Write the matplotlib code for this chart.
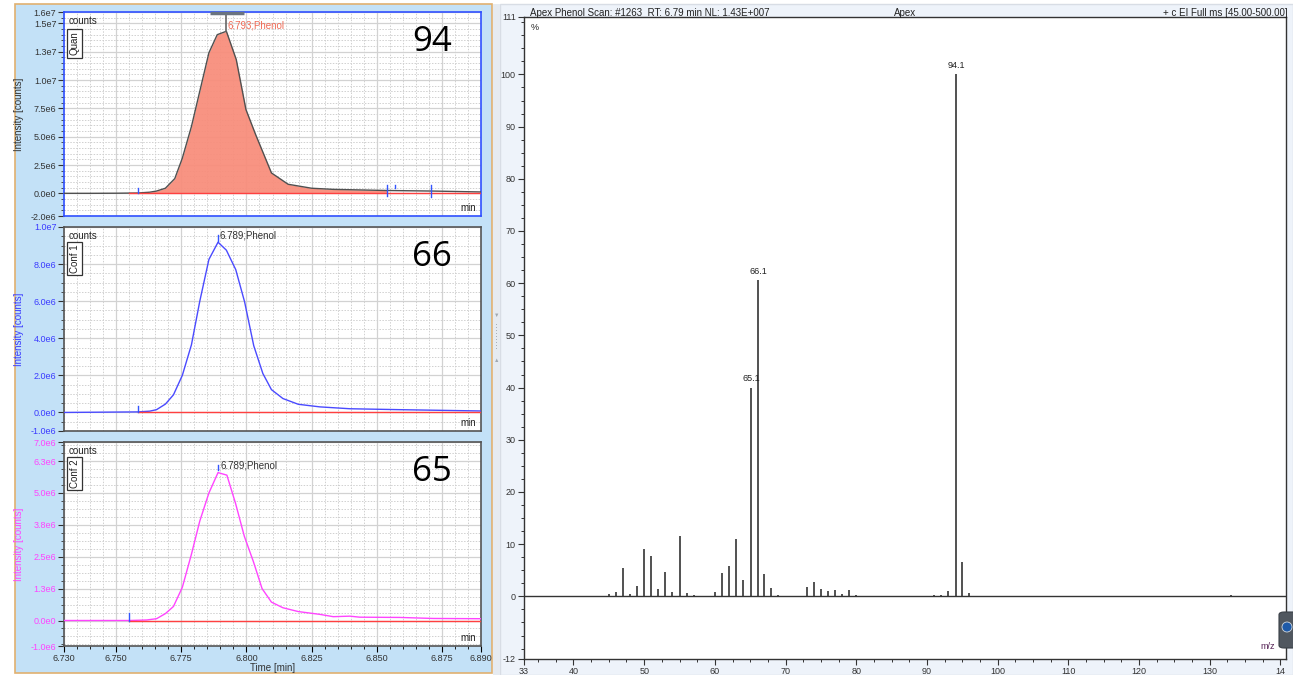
import matplotlib
matplotlib.use("Agg")
import matplotlib.pyplot as plt
from matplotlib.patches import Rectangle, FancyBboxPatch, Ellipse
from matplotlib.ticker import FixedLocator, MultipleLocator

plt.rcParams['font.family'] = ['Liberation Sans', 'DejaVu Sans']

# chromatogram m/z 94 (quan)
t94 = [6.730, 6.740, 6.750, 6.7584, 6.7629, 6.7655, 6.7689, 6.7725, 6.7754, 6.7789, 6.7824,
       6.7856, 6.7888, 6.7923, 6.7961, 6.7998, 6.8035, 6.8096, 6.8160, 6.8250, 6.8333, 6.8538,
       6.8717, 6.8900]
i94 = [0.0, 0.0, 0.01, 0.03, 0.10, 0.20, 0.45, 1.3, 3.1, 5.9, 9.3,
       12.4, 14.0, 14.3, 11.8, 7.4, 5.2, 1.8, 0.8, 0.45, 0.35, 0.25,
       0.2, 0.12]

# chromatogram m/z 66 (conf 1)
t66 = [6.730, 6.7584, 6.7629, 6.7655, 6.7689, 6.772, 6.7754, 6.7789, 6.7821, 6.7856, 6.7891,
       6.7923, 6.7959, 6.7993, 6.8028, 6.8063, 6.8096, 6.814, 6.8199, 6.8282, 6.8397, 6.8589, 6.890]
i66 = [0.0, 0.03, 0.07, 0.15, 0.45, 0.95, 2.0, 3.65, 6.0, 8.25, 9.18,
       8.75, 7.7, 5.96, 3.6, 2.1, 1.23, 0.75, 0.44, 0.3, 0.2, 0.15, 0.08]

# chromatogram m/z 65 (conf 2)
t65 = [6.730, 6.755, 6.7617, 6.7655, 6.7689, 6.772, 6.7754, 6.7789, 6.7821, 6.7856, 6.7891,
       6.7925, 6.7958, 6.7992, 6.8027, 6.806, 6.8096, 6.814, 6.8199, 6.8282, 6.8333, 6.8397,
       6.8435, 6.8589, 6.8717, 6.890]
i65 = [0.0, 0.0, 0.02, 0.07, 0.27, 0.55, 1.3, 2.6, 3.9, 5.0, 5.8,
       5.7, 4.6, 3.3, 2.3, 1.25, 0.72, 0.5, 0.35, 0.24, 0.15, 0.17,
       0.13, 0.12, 0.08, 0.07]

# apex mass spectrum
mz = [45, 46, 47, 48, 49, 50, 51, 52, 53, 54, 55, 56, 57, 60, 61, 62, 63, 64, 65.1, 66.1, 67, 68, 69,
      73, 74, 75, 76, 77, 78, 79, 80, 91, 92, 93, 94.1, 95, 96, 133]
rel = [0.4, 0.9, 5.4, 0.4, 1.9, 9.0, 7.8, 1.5, 4.7, 0.9, 11.6, 0.6, 0.3, 0.9, 4.4, 5.9, 11.0, 3.1, 40.0, 60.6, 4.2, 1.6, 0.3,
       1.7, 2.8, 1.5, 1.0, 1.3, 0.45, 1.3, 0.3, 0.3, 0.3, 1.1, 100.0, 6.6, 0.6, 0.2]
labelled = [65.1, 66.1, 94.1]

x_ticks = [6.730, 6.750, 6.775, 6.800, 6.825, 6.850, 6.875, 6.890]
x_labels = ["6.730", "6.750", "6.775", "6.800", "6.825", "6.850", "6.875", "6.890"]

fig = plt.figure(figsize=(12.93, 6.75), dpi=100)
fig.patch.set_facecolor("white")

# window backgrounds
fig.patches.append(Rectangle((15/1293, 2/675), 477/1293, 669/675, transform=fig.transFigure,
                             facecolor="#c3e1f7", edgecolor="#e0b070", lw=1.2, zorder=-5))
fig.patches.append(Rectangle((500/1293, 0), 793/1293, 671/675, transform=fig.transFigure,
                             facecolor="#eef3fa", edgecolor="#d8dde5", lw=1, zorder=-5))
fig.patches.append(Rectangle((493/1293, 0), 7/1293, 671/675, transform=fig.transFigure,
                             facecolor="#e6ebf1", edgecolor="none", zorder=-5))
# splitter grip
fig.text(496.5/1293, 1-315/675, "▼", fontsize=4, color="#a0a8b0", ha="center", va="center")
fig.text(496.5/1293, 1-360/675, "▲", fontsize=4, color="#a0a8b0", ha="center", va="center")
for gy in range(325, 352, 3):
    fig.patches.append(Rectangle((496/1293, 1-gy/675), 1.2/1293, 1.2/675, transform=fig.transFigure,
                                 facecolor="#a8b0b8", edgecolor="none", zorder=-4))


def chrom_panel(pos, t, y, color, ylim, yticks, ylabels, minor, tag, number, label_col, lbl_y,
                apex_t, label_t, fill=False, spine_col="#555555", ycol="#333333"):
    ax = fig.add_axes(pos)
    ax.set_facecolor("white")
    yy = [v * 1e6 for v in y]
    if fill:
        start = t.index(6.7584)
        stop = t.index(6.8538) + 1
        ax.fill_between(t[start:stop], yy[start:stop], 0, color="#f88e7c", alpha=0.95, lw=0, zorder=2)
    ax.plot(t, yy, color=color, lw=1.0, zorder=3)
    ax.set_xlim(6.730, 6.890)
    ax.set_ylim(*ylim)
    ax.yaxis.set_major_locator(FixedLocator(yticks))
    ax.set_yticklabels(ylabels, fontsize=6.5, color=ycol)
    ax.yaxis.set_minor_locator(MultipleLocator(minor))
    ax.xaxis.set_major_locator(FixedLocator([6.75, 6.775, 6.8, 6.825, 6.85, 6.875]))
    ax.xaxis.set_minor_locator(MultipleLocator(0.005))
    ax.grid(which="major", color="#d2d2d2", lw=0.9, ls="-", zorder=0)
    ax.grid(which="minor", color="#d0d0d0", lw=0.7, ls=(0, (1.5, 1.5)), zorder=0)
    ax.set_axisbelow(True)
    ax.tick_params(axis="y", which="major", direction="out", length=4, width=0.8, colors="#333333",
                   labelcolor=ycol, pad=1.5)
    ax.tick_params(axis="y", which="minor", direction="out", length=2, width=0.6, colors="#333333")
    ax.tick_params(axis="x", which="both", length=0, labelbottom=False)
    for s in ax.spines.values():
        s.set_color(spine_col)
        s.set_linewidth(1.2)
    ax.set_ylabel("Intensity [counts]", fontsize=7, color=ycol)
    ax.yaxis.set_label_coords(-0.097, 0.5)
    ax.text(0.011, 0.957, "counts", transform=ax.transAxes, fontsize=7, color="#222222", va="center")
    ax.text(0.026, 0.845, tag, transform=ax.transAxes, fontsize=7, rotation=90, ha="center", va="center",
            color="#222222", bbox=dict(boxstyle="square,pad=0.25", fc="white", ec="#333333", lw=0.9))
    ax.text(0.882, 0.855, number, transform=ax.transAxes, fontsize=25, ha="center", va="center",
            family=["Open Sans", "DejaVu Sans"], color="black")
    ax.text(0.97, 0.04, "min", transform=ax.transAxes, fontsize=7, ha="center", va="center", color="#222222")
    ax.text(label_t, lbl_y, "6.%s;Phenol" % ("793" if fill else "789"), fontsize=7, color=label_col,
            va="center", ha="left", zorder=5)
    base_start = 6.7584 if t[1] > 6.756 else 6.755
    ax.plot([base_start, 6.890], [0, 0], color="#ff4040", lw=1.0, zorder=4)
    return ax


# top: m/z 94
ax1 = chrom_panel([64/1293, 1-216/675, 417/1293, 204/675], t94, i94, "#505050", (-2.0e6, 1.6e7),
                  [-2.0e6, 0, 2.5e6, 5.0e6, 7.5e6, 1.0e7, 1.25e7, 1.5e7, 1.6e7],
                  ["-2.0e6", "0.0e0", "2.5e6", "5.0e6", "7.5e6", "1.0e7", "1.3e7", "1.5e7", "1.6e7"],
                  5e5, "Quan", "94", "#f06a55", 14.85e6, 6.7923, 6.7929, fill=True,
                  spine_col="#3050ff", ycol="#333333")
ax1.plot([6.7923, 6.7923], [14.3e6, 1.594e7], color="#666666", lw=1.2, zorder=5)
ax1.plot([6.7859, 6.7991], [1.594e7, 1.594e7], color="#6a7480", lw=2.5, zorder=5, clip_on=False,
         solid_capstyle="butt")
for mt, lo, hi in [(6.7584, 0, 0.45e6), (6.8538, -0.25e6, 0.75e6), (6.857, 0.44e6, 0.74e6),
                   (6.8708, -0.35e6, 0.74e6)]:
    ax1.plot([mt, mt], [lo, hi], color="#3355ff", lw=1.0, zorder=6)

# middle: m/z 66
ax2 = chrom_panel([64/1293, 1-431/675, 417/1293, 204/675], t66, i66, "#4a4aff", (-1.0e6, 1.0e7),
                  [-1.0e6, 0, 2e6, 4e6, 6e6, 8e6, 1.0e7],
                  ["-1.0e6", "0.0e0", "2.0e6", "4.0e6", "6.0e6", "8.0e6", "1.0e7"],
                  5e5, "Conf 1", "66", "#333333", 9.55e6, 6.7891, 6.7897, ycol="#3a3aff")
ax2.plot([6.7584, 6.7584], [0, 0.33e6], color="#3355ff", lw=1.0, zorder=6)
ax2.plot([6.7891, 6.7891], [9.25e6, 9.56e6], color="#3355ff", lw=1.0, zorder=6)

# bottom: m/z 65
ax3 = chrom_panel([64/1293, 1-646/675, 417/1293, 204/675], t65, i65, "#ff44ff", (-1.0e6, 7.0e6),
                  [-1.0e6, 0, 1.25e6, 2.5e6, 3.75e6, 5.0e6, 6.25e6, 7.0e6],
                  ["-1.0e6", "0.0e0", "1.3e6", "2.5e6", "3.8e6", "5.0e6", "6.3e6", "7.0e6"],
                  3.125e5, "Conf 2", "65", "#333333", 6.08e6, 6.7891, 6.7900, ycol="#ff44ff")
ax3.plot([6.755, 6.755], [0, 0.3e6], color="#3355ff", lw=1.0, zorder=6)
ax3.plot([6.7891, 6.7891], [5.92e6, 6.09e6], color="#3355ff", lw=1.0, zorder=6)
ax3.set_xticks(x_ticks)
ax3.set_xticklabels(x_labels)
ax3.tick_params(axis="x", which="major", length=4, width=0.8, direction="out", labelbottom=True,
                labelsize=6.5, labelcolor="#333333", pad=2)
ax3.tick_params(axis="x", which="minor", length=2, width=0.6, direction="out")
ax3.set_xlabel("Time [min]", fontsize=7, color="#333333", labelpad=0)

# right: apex spectrum
axs = fig.add_axes([524/1293, 16/675, 762/1293, 642/675])
axs.set_facecolor("white")
axs.vlines(mz, 0, rel, color="#222222", lw=1.1)
axs.axhline(0, color="#333333", lw=1.0)
for m, r in zip(mz, rel):
    if m in labelled:
        axs.text(m, r + 0.8, "%.1f" % m, fontsize=6.5, ha="center", va="bottom", color="#222222",
                 family=["Liberation Sans Narrow", "Liberation Sans", "DejaVu Sans"])
axs.set_xlim(33, 140.8)
axs.set_ylim(-12, 111)
axs.set_xticks([33, 40, 50, 60, 70, 80, 90, 100, 110, 120, 130, 140])
axs.set_xticklabels(["33", "40", "50", "60", "70", "80", "90", "100", "110", "120", "130", "14"])
axs.xaxis.set_minor_locator(MultipleLocator(2.5))
axs.set_yticks([-12, 0, 10, 20, 30, 40, 50, 60, 70, 80, 90, 100, 111])
axs.set_yticklabels(["-12", "0", "10", "20", "30", "40", "50", "60", "70", "80", "90", "100", "111"])
axs.yaxis.set_minor_locator(MultipleLocator(2.5))
axs.tick_params(which="major", direction="out", length=4, width=0.8, labelsize=6.5,
                colors="#333333", pad=2)
axs.tick_params(which="minor", direction="out", length=2.5, width=0.7, colors="#333333")
for s in axs.spines.values():
    s.set_color("#333333")
    s.set_linewidth(1.0)
axs.text(0.009, 0.983, "%", transform=axs.transAxes, fontsize=6.5, va="center", color="#222222")
axs.text(0.985, 0.012, "m/z", transform=axs.transAxes, fontsize=6.5, ha="right", va="bottom",
         color="#552255")

# small overlay widget at the lower right edge
fig.patches.append(FancyBboxPatch((1279/1293, 1-648/675), 20/1293, 36/675, transform=fig.transFigure,
                                  boxstyle="round,pad=0,rounding_size=0.004", facecolor="#50575f",
                                  edgecolor="#3a4047", lw=0.8, zorder=10))
fig.patches.append(Ellipse((1287/1293, 1-627/675), 10/1293, 10/675, transform=fig.transFigure,
                           facecolor="#1e5aa8", edgecolor="#d0d8e0", lw=0.6, zorder=11))

hdr = ["Liberation Sans Narrow", "Liberation Sans", "DejaVu Sans"]
fig.text(530/1293, 1-13/675, "Apex Phenol Scan: #1263  RT: 6.79 min NL: 1.43E+007", fontsize=7,
         va="center", ha="left", color="#222222", family=hdr)
fig.text(905/1293, 1-13/675, "Apex", fontsize=7, va="center", ha="center", color="#222222", family=hdr)
fig.text(1288/1293, 1-13/675, "+ c EI Full ms [45.00-500.00]", fontsize=7, va="center", ha="right",
         color="#222222", family=hdr)

fig.savefig("out.png", dpi=100, facecolor=fig.get_facecolor())
